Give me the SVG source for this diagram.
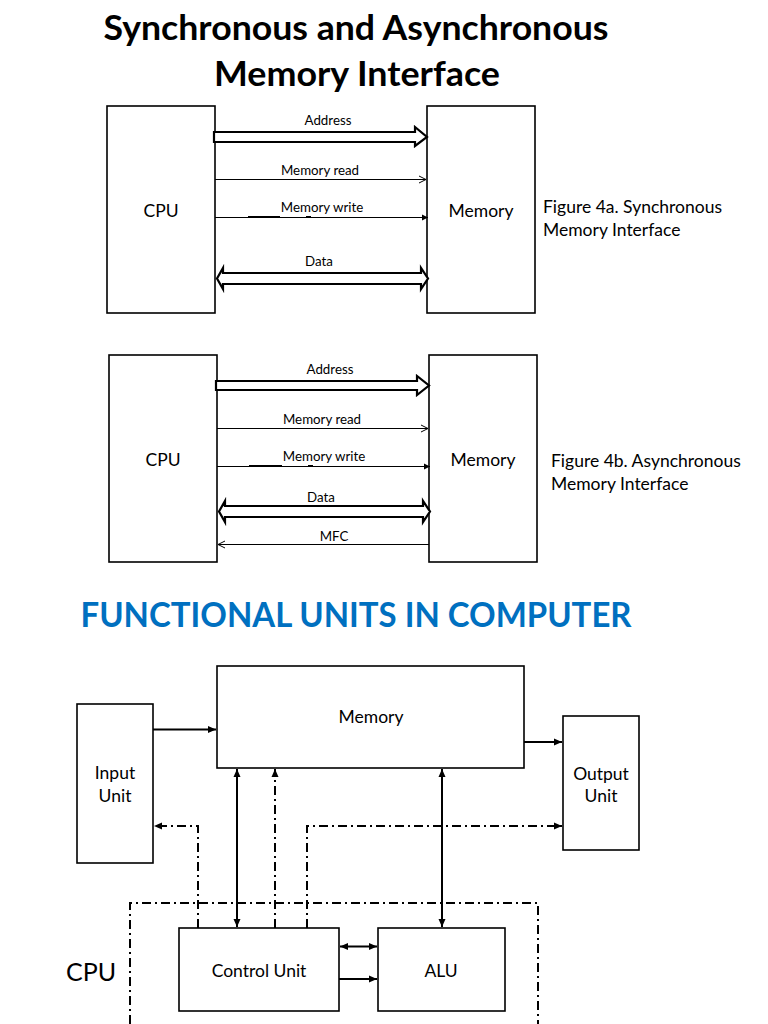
<svg xmlns="http://www.w3.org/2000/svg" width="768" height="1024" viewBox="0 0 768 1024">
<style>
text{font-family:Lato,"Open Sans","Liberation Sans",sans-serif;fill:#000}
.box{fill:#fff;stroke:#000;stroke-width:1.6}
.t{font-size:17.5px;text-anchor:middle}
.lbl{font-size:13.3px;text-anchor:middle}
.cap{font-size:17.5px}
.thin{stroke:#000;stroke-width:1;fill:none}
.hollow{fill:#fff;stroke:#000;stroke-width:2.2;stroke-linejoin:miter}
.sol{stroke:#000;stroke-width:2;fill:none}
.dd{stroke:#000;stroke-width:2;fill:none;stroke-dasharray:9 4 2 4}
</style>
<defs>
<marker id="open" markerWidth="10" markerHeight="10" refX="8" refY="5" orient="auto" markerUnits="userSpaceOnUse"><path d="M1,1.5 L8,5 L1,8.5" fill="none" stroke="#000" stroke-width="1"/></marker>
<marker id="fillS" markerWidth="8" markerHeight="8" refX="6" refY="4" orient="auto" markerUnits="userSpaceOnUse"><path d="M0,1 L6,4 L0,7 Z" fill="#000"/></marker>
<marker id="arr" markerWidth="10" markerHeight="10" refX="8" refY="5" orient="auto-start-reverse" markerUnits="userSpaceOnUse"><path d="M0,1.5 L8,5 L0,8.5 Z" fill="#000"/></marker>
</defs>

<text x="356" y="40" font-size="34" font-weight="bold" text-anchor="middle" textLength="505" lengthAdjust="spacingAndGlyphs">Synchronous and Asynchronous</text>
<text x="357" y="86" font-size="34" font-weight="bold" text-anchor="middle" textLength="286" lengthAdjust="spacingAndGlyphs">Memory Interface</text>

<!-- Figure 4a -->
<g id="cpu-a"><rect class="box" x="107" y="106" width="108" height="207"/><text class="t" x="161" y="217">CPU</text></g>
<g id="mem-a"><rect class="box" x="427" y="106" width="108" height="207"/><text class="t" x="481" y="217">Memory</text></g>
<g id="cap-a"><text class="cap" x="543" y="213">Figure 4a. Synchronous</text><text class="cap" x="543" y="236">Memory Interface</text></g>
<g id="conn-a">
<polygon class="hollow" points="214,132 415,132 415,127 427,137 415,146 415,142 214,142"/>
<text class="lbl" x="328" y="125">Address</text>
<line class="thin" x1="215" y1="179.5" x2="426" y2="179.5" marker-end="url(#open)"/>
<text class="lbl" x="320" y="175">Memory read</text>
<line class="thin" x1="215" y1="217.5" x2="428" y2="217.5" marker-end="url(#fillS)"/>
<line stroke="#000" stroke-width="2" x1="248" y1="217" x2="280" y2="217"/>
<line stroke="#000" stroke-width="2" x1="306" y1="217" x2="311" y2="217"/>
<text class="lbl" x="322" y="212">Memory write</text>
<polygon class="hollow" points="223,273 421,273 421,268 428,278.5 421,289 421,284 223,284 223,289 217,278.5 223,268"/>
<text class="lbl" x="319" y="266">Data</text>
</g>

<!-- Figure 4b -->
<g id="cpu-b"><rect class="box" x="109" y="355" width="108" height="207"/><text class="t" x="163" y="466">CPU</text></g>
<g id="mem-b"><rect class="box" x="429" y="355" width="108" height="207"/><text class="t" x="483" y="466">Memory</text></g>
<g id="cap-b"><text class="cap" x="551" y="467">Figure 4b. Asynchronous</text><text class="cap" x="551" y="490">Memory Interface</text></g>
<g id="conn-b">
<polygon class="hollow" points="216,381 417,381 417,376 429,385.5 417,395 417,390 216,390"/>
<text class="lbl" x="330" y="374">Address</text>
<line class="thin" x1="217" y1="428.5" x2="428" y2="428.5" marker-end="url(#open)"/>
<text class="lbl" x="322" y="424">Memory read</text>
<line class="thin" x1="217" y1="466.5" x2="430" y2="466.5" marker-end="url(#fillS)"/>
<line stroke="#000" stroke-width="2" x1="249" y1="466" x2="282" y2="466"/>
<line stroke="#000" stroke-width="2" x1="308" y1="466" x2="313" y2="466"/>
<text class="lbl" x="324" y="461">Memory write</text>
<polygon class="hollow" points="225,506 423,506 423,501 430,511.5 423,522 423,517 225,517 225,522 219,511.5 225,501"/>
<text class="lbl" x="321" y="502">Data</text>
<line class="thin" x1="429" y1="544.5" x2="218" y2="544.5" marker-end="url(#open)"/>
<text class="lbl" x="334" y="541">MFC</text>
</g>

<text x="356" y="627" font-size="35" font-weight="bold" fill="#0070C0" style="fill:#0070C0" text-anchor="middle" textLength="551" lengthAdjust="spacingAndGlyphs">FUNCTIONAL UNITS IN COMPUTER</text>

<!-- Functional units -->
<g id="cpu-region"><path class="dd" d="M130,1024 L130,903 L538,903 L538,1024"/><text x="91" y="981" font-size="25" text-anchor="middle">CPU</text></g>
<g id="memory"><rect class="box" x="217" y="666" width="307" height="102"/><text class="t" x="371" y="723">Memory</text></g>
<g id="input"><rect class="box" x="77" y="704" width="76" height="159"/><text class="t" x="115" y="779">Input</text><text class="t" x="115" y="802">Unit</text></g>
<g id="output"><rect class="box" x="563" y="716" width="76" height="134"/><text class="t" x="601" y="780">Output</text><text class="t" x="601" y="802">Unit</text></g>
<g id="control"><rect class="box" x="179" y="928" width="160" height="83"/><text class="t" x="259" y="977">Control Unit</text></g>
<g id="alu"><rect class="box" x="378" y="928" width="127" height="83"/><text class="t" x="441" y="977">ALU</text></g>
<g id="connectors">
<line class="sol" x1="153" y1="729.5" x2="216" y2="729.5" marker-end="url(#arr)"/>
<line class="sol" x1="524" y1="742" x2="562" y2="742" marker-end="url(#arr)"/>
<line class="sol" x1="237" y1="769" x2="237" y2="927" marker-start="url(#arr)" marker-end="url(#arr)"/>
<line class="sol" x1="442" y1="769" x2="442" y2="927" marker-start="url(#arr)" marker-end="url(#arr)"/>
<line class="sol" x1="340" y1="946.5" x2="377" y2="946.5" marker-start="url(#arr)" marker-end="url(#arr)"/>
<line class="sol" x1="339" y1="979" x2="377" y2="979" marker-end="url(#arr)"/>
<path class="dd" d="M275,928 L275,769" marker-end="url(#arr)"/>
<path class="dd" d="M198,928 L198,826 L154,826" marker-end="url(#arr)"/>
<path class="dd" d="M307,928 L307,826 L562,826" marker-end="url(#arr)"/>
</g>
</svg>
